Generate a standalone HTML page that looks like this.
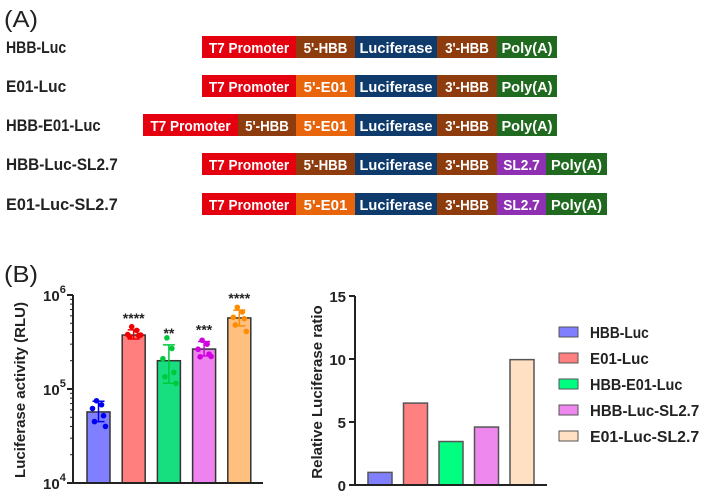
<!DOCTYPE html>
<html><head><meta charset="utf-8"><style>
body{margin:0;background:#fff;}
svg{display:block;font-family:"Liberation Sans",sans-serif;}
</style></head><body>
<svg id="fig" width="716" height="497" viewBox="0 0 716 497">
<text x="4" y="27" font-size="23" fill="#222" textLength="34" lengthAdjust="spacingAndGlyphs">(A)</text>
<g id="constructs"></g>
<text x="4" y="282" font-size="23" fill="#222" textLength="34" lengthAdjust="spacingAndGlyphs">(B)</text>
<g id="left"></g>
<g id="right"></g>
</svg>
<script>
// ---- chart data ----
const categories = ["HBB-Luc","E01-Luc","HBB-E01-Luc","HBB-Luc-SL2.7","E01-Luc-SL2.7"];
const activityMeans = [57000, 375000, 200000, 266000, 570000];
const activitySdLow = [45000, 340000, 115000, 225000, 470000];
const activitySdHigh = [74000, 425000, 295000, 320000, 690000];
const activityPoints = [
  [75000, 68000, 62000, 52000, 45000, 40000],
  [460000, 420000, 380000, 370000, 360000, 375000],
  [350000, 270000, 210000, 150000, 135000, 115000],
  [330000, 300000, 265000, 235000, 220000, 222000],
  [740000, 660000, 580000, 560000, 480000, 410000]];
const significance = ["", "****", "**", "***", "****"];
const logTicks = [4, 5, 6];
const ratioValues = [1, 6.5, 3.45, 4.6, 9.95];
const ratioTicks = [0, 5, 10, 15];

const NS="http://www.w3.org/2000/svg";
function mk(tag, attrs, parent, txt){const e=document.createElementNS(NS,tag);for(const k in attrs)e.setAttribute(k,attrs[k]);if(txt!==undefined)e.textContent=txt;parent.appendChild(e);return e;}

// ---- panel A ----
const CA={t7:"#e4000f",hbb5:"#8e3b0e",e015:"#e8650c",luc:"#0e3a6c",hbb3:"#8e3b0e",sl:"#8f30b3",pa:"#1f6a1e"};
const rows=[
 {name:"HBB-Luc",y:36,segs:[["T7 Promoter",202,296,"t7"],["5'-HBB",296,355,"hbb5"],["Luciferase",355,437,"luc"],["3'-HBB",437,497,"hbb3"],["Poly(A)",497,557,"pa"]]},
 {name:"E01-Luc",y:75,segs:[["T7 Promoter",202,296,"t7"],["5'-E01",296,355,"e015"],["Luciferase",355,437,"luc"],["3'-HBB",437,497,"hbb3"],["Poly(A)",497,557,"pa"]]},
 {name:"HBB-E01-Luc",y:114,segs:[["T7 Promoter",143,238,"t7"],["5'-HBB",238,296,"hbb5"],["5'-E01",296,355,"e015"],["Luciferase",355,437,"luc"],["3'-HBB",437,497,"hbb3"],["Poly(A)",497,557,"pa"]]},
 {name:"HBB-Luc-SL2.7",y:153,segs:[["T7 Promoter",202,296,"t7"],["5'-HBB",296,355,"hbb5"],["Luciferase",355,437,"luc"],["3'-HBB",437,497,"hbb3"],["SL2.7",497,546,"sl"],["Poly(A)",546,607,"pa"]]},
 {name:"E01-Luc-SL2.7",y:193,segs:[["T7 Promoter",202,296,"t7"],["5'-E01",296,355,"e015"],["Luciferase",355,437,"luc"],["3'-HBB",437,497,"hbb3"],["SL2.7",497,546,"sl"],["Poly(A)",546,607,"pa"]]}];
const ga=document.getElementById('constructs');
rows.forEach(r=>{
  const g=mk('g',{},ga);
  
  
  const lab=mk('text',{x:6,y:r.y+17,'font-size':17,'font-weight':'bold',fill:'#222',textLength:r.name.length*8.6,lengthAdjust:'spacingAndGlyphs'},g,r.name);
  
  
  r.segs.forEach(s=>{
    const rc=mk('rect',{x:s[1],y:r.y,width:s[2]-s[1],height:22,fill:CA[s[3]]},g);
    
    
    const w=s[2]-s[1];
    const t=mk('text',{x:(s[1]+s[2])/2,y:r.y+17,'font-size':15,'font-weight':'bold',fill:'#fff','text-anchor':'middle',textLength:Math.min(w-8,s[0].length*7.3),lengthAdjust:'spacingAndGlyphs'},g,s[0]);
    
    
  });
});

// ---- left chart ----
const gl=document.getElementById('left');
const L={x0:73,x1:263,yBase:483,dec:94};
const ly=v=>L.yBase-(Math.log10(v)-4)*L.dec;
const lx=i=>98.5+i*35.2;
const barFill=["#7f7fff","#ff7f7f","#17df7f","#ee82ee","#ffbf7f"];
const ptFill=["#0000f0","#f00000","#00c83c","#d000e0","#ff8c00"];
categories.forEach((c,i)=>{
  const y=ly(activityMeans[i]);
  const b=mk('rect',{x:lx(i)-11.5,y:y,width:23,height:L.yBase-y,fill:barFill[i],stroke:'#333','stroke-width':1.5},gl);
  
  
  const yl=ly(activitySdLow[i]),yh=ly(activitySdHigh[i]);
  const eb=mk('path',{d:`M${lx(i)},${yl}V${yh}M${lx(i)-6},${yh}H${lx(i)+6}M${lx(i)-6},${yl}H${lx(i)+6}`,stroke:ptFill[i],'stroke-width':1.5,fill:'none'},gl);
  
  
  const offs=[-2,3,-6,5,-4,7];
  activityPoints[i].forEach((v,j)=>{
    const p=mk('circle',{cx:lx(i)+offs[j],cy:ly(v),r:2.8,fill:ptFill[i]},gl);
    
    
  });
  if(significance[i]){
    const s=mk('text',{x:lx(i),y:yh-7,'font-size':14,'text-anchor':'middle',fill:'#222','font-weight':'bold'},gl,significance[i]);
    
    
  }
});
const axl=mk('path',{d:`M${L.x0},${ly(1e6)}V${L.yBase}H${L.x1}`,stroke:'#222','stroke-width':2,fill:'none'},gl);


logTicks.forEach(t=>{
  const y=L.yBase-(t-4)*L.dec;
  mk('line',{x1:L.x0-6,x2:L.x0,y1:y,y2:y,stroke:'#222','stroke-width':2},gl);
  for(let m=2;m<10&&t<6;m++){const yy=y-Math.log10(m)*L.dec;mk('line',{x1:L.x0-3,x2:L.x0,y1:yy,y2:yy,stroke:'#222','stroke-width':1},gl);}
  const tx=mk('text',{x:43,y:y+6,'font-size':15,'font-weight':'bold',fill:'#222'},gl);
  
  
  mk('tspan',{},tx,'10');
  mk('tspan',{dy:-8,'font-size':11},tx,String(t));
});
const ylt=mk('text',{transform:'translate(25,390) rotate(-90)','text-anchor':'middle','font-size':15,'font-weight':'bold',fill:'#222'},gl,'Luciferase activity (RLU)');



// ---- right chart ----
const gr=document.getElementById('right');
const R={x0:355,x1:547,yBase:485,yTop:296,max:15};
const ry=v=>R.yBase-v/R.max*(R.yBase-R.yTop);
const rx=i=>380+i*35.5;
const rFill=["#8080ff","#ff8080","#00ff80","#ee88ee","#ffe0c2"];
categories.forEach((c,i)=>{
  const y=ry(ratioValues[i]);
  const b=mk('rect',{x:rx(i)-12,y:y,width:24,height:R.yBase-y,fill:rFill[i],stroke:'#555','stroke-width':1.5},gr);
  
  
});
const axr=mk('path',{d:`M${R.x0},${R.yTop}V${R.yBase}H${R.x1}`,stroke:'#222','stroke-width':2,fill:'none'},gr);


ratioTicks.forEach(t=>{
  const y=ry(t);
  mk('line',{x1:R.x0-6,x2:R.x0,y1:y,y2:y,stroke:'#222','stroke-width':2},gr);
  const tx=mk('text',{x:R.x0-9,y:y+6,'font-size':15,'font-weight':'bold','text-anchor':'end',fill:'#222'},gr,String(t));
  
  
});
const yrt=mk('text',{transform:'translate(322,392) rotate(-90)','text-anchor':'middle','font-size':15,'font-weight':'bold',fill:'#222'},gr,'Relative Luciferase ratio');


categories.forEach((c,i)=>{
  const y=332+i*26;
  const g=mk('g',{},gr);
  
  
  mk('rect',{x:559,y:y-5,width:19,height:10,fill:rFill[i],stroke:'#555','stroke-width':1},g);
  mk('text',{x:590,y:y+6,'font-size':16,'font-weight':'bold',fill:'#222',textLength:c.length*8.4,lengthAdjust:'spacingAndGlyphs'},g,c);
});
</script>
</body></html>
